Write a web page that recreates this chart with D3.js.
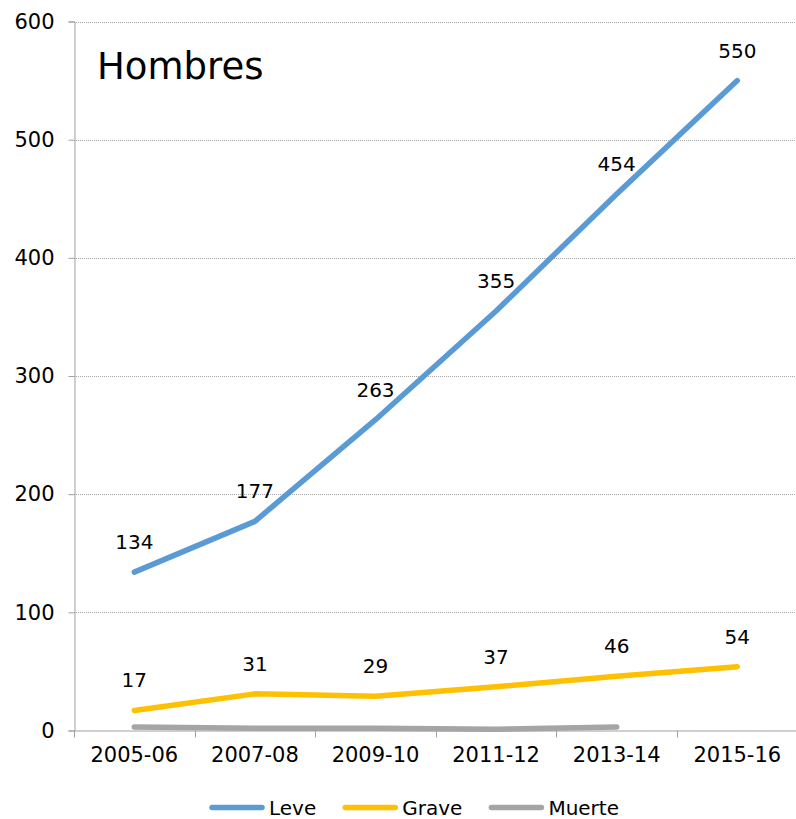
<!DOCTYPE html>
<html><head><meta charset="utf-8">
<script src="https://cdn.jsdelivr.net/npm/d3@7"></script>
<style>body{margin:0;background:#fff}svg{display:block}text{font-family:"DejaVu Sans",Verdana,sans-serif;fill:#000}</style>
</head><body>
<svg id="c" width="796" height="819"></svg>
<script>
const categories = ["2005-06","2007-08","2009-10","2011-12","2013-14","2015-16"];
const leve = [134,177,263,355,454,550];
const grave = [17,31,29,37,46,54];
const muerte = [3,2,2,1,3,null];
const yTicks = [0,100,200,300,400,500,600];
const seriesNames = ["Leve","Grave","Muerte"];
const colors = ["#5B9BD5","#FFC000","#A5A5A5"];
const title = "Hombres";

(function(){
const svg = d3.select("#c");
const pLeft = 74, pRight = 797.6, pTop = 21.5, pBottom = 730.5;
const x = d3.scaleBand().domain(categories).range([pLeft,pRight]);
const y = d3.scaleLinear().domain([0,600]).range([pBottom,pTop]);

// gridlines
svg.append("g").selectAll("line").data(yTicks.filter(d=>d>0)).join("line")
  .attr("x1",pLeft).attr("x2",796).attr("y1",d=>Math.round(y(d))+0.5).attr("y2",d=>Math.round(y(d))+0.5)
  .attr("stroke","#a6a6a6").attr("stroke-width",1).attr("stroke-dasharray","1,1");

// y axis
const ya = svg.append("g").attr("transform",`translate(${pLeft+0.5},0)`)
  .call(d3.axisLeft(y).tickValues(yTicks).tickSize(6).tickPadding(14).tickFormat(d3.format("d")));
ya.select(".domain").attr("stroke","#a0a0a0");
ya.selectAll(".tick line").attr("stroke","#a0a0a0");
ya.selectAll(".tick text").attr("font-size",21).attr("font-family","DejaVu Sans").attr("fill","#000");

// x axis
const xa = svg.append("g").attr("transform",`translate(0,${pBottom})`)
  .call(d3.axisBottom(x).tickSize(0).tickPadding(17));
xa.select(".domain").attr("stroke","#a0a0a0").attr("d",`M${pLeft},0.5H796`);
xa.selectAll(".tick text").attr("font-size",21).attr("font-family","DejaVu Sans").attr("fill","#000");
// category boundary ticks
svg.append("g").selectAll("line").data(categories).join("line")
  .attr("x1",d=>Math.round(x(d))+0.5).attr("x2",d=>Math.round(x(d))+0.5)
  .attr("y1",pBottom).attr("y2",pBottom+7).attr("stroke","#a0a0a0");

const cx = d => x(d)+x.bandwidth()/2;
const allSeries = [leve,grave,muerte];
const line = d3.line().defined(d=>d.v!=null).x(d=>cx(d.c)).y(d=>y(d.v));

allSeries.forEach((s,i)=>{
  const pts = categories.map((c,j)=>({c,v:s[j]}));
  svg.append("path").datum(pts).attr("d",line).attr("fill","none")
    .attr("stroke",colors[i]).attr("stroke-width",5.5).attr("stroke-linecap","round").attr("stroke-linejoin","round");
});

// data labels for Leve and Grave
[leve,grave].forEach(s=>{
  svg.append("g").selectAll("text").data(categories.map((c,j)=>({c,v:s[j]}))).join("text")
    .attr("x",d=>cx(d.c)).attr("y",d=>y(d.v)-23).attr("text-anchor","middle")
    .attr("font-size",20).text(d=>d.v);
});

// title
svg.append("text").attr("x",97).attr("y",79).attr("font-size",37).text(title);

// legend
const lg = svg.append("g");
let xpos = 0;
seriesNames.forEach((n,i)=>{
  const g = lg.append("g").attr("transform",`translate(${xpos},0)`);
  g.append("line").attr("x1",3).attr("x2",53).attr("y1",0).attr("y2",0)
    .attr("stroke",colors[i]).attr("stroke-width",5.5).attr("stroke-linecap","round");
  const t = g.append("text").attr("x",60).attr("y",7).attr("font-size",20).text(n);
  const w = t.node().getComputedTextLength();
  xpos += 60 + w + 26;
});
const totalW = xpos - 26;
lg.attr("transform",`translate(${414 - totalW/2},807.5)`);
})();
</script>
</body></html>
